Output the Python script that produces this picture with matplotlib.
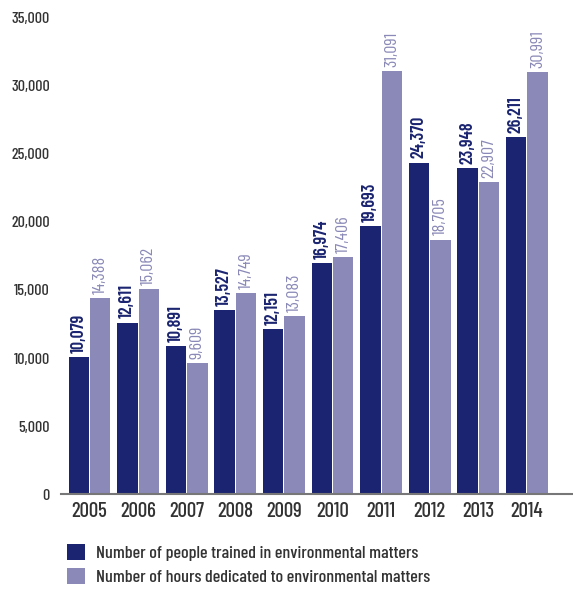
import numpy as np
import matplotlib
matplotlib.use("Agg")
import matplotlib.pyplot as plt
from matplotlib.patches import Patch
from matplotlib import font_manager

years = ["2005", "2006", "2007", "2008", "2009", "2010", "2011", "2012", "2013", "2014"]
people_trained = [10079, 12611, 10891, 13527, 12151, 16974, 19693, 24370, 23948, 26211]
hours_dedicated = [14388, 15062, 9609, 14749, 13083, 17406, 31091, 18705, 22907, 30991]
y_ticks = [0, 5000, 10000, 15000, 20000, 25000, 30000, 35000]

DARK = "#1b2470"
LIGHT = "#8a89b7"
TEXT = "#333333"

# narrow DIN-like face, first one installed wins
names = {f.name for f in font_manager.fontManager.ttflist}
prefs = ["Barlow Condensed", "Roboto Condensed", "Saira Condensed", "PT Sans Narrow", "Oswald"]
FAMILY = [n for n in prefs if n in names][:1] + ["DejaVu Sans"]
plt.rcParams["font.family"] = FAMILY

fig = plt.figure(figsize=(5.73, 5.96), dpi=100)
ax = fig.add_axes([0.1065, 0.171, 0.8935, 0.799])

x = np.arange(len(years))
w = 0.42
off = w / 2 + 0.01
ax.bar(x - off, people_trained, width=w, color=DARK, zorder=2)
ax.bar(x + off, hours_dedicated, width=w, color=LIGHT, zorder=2)

for xi, v in zip(x, people_trained):
    ax.annotate(f"{v:,}", (xi - off, v), xytext=(0, 3), textcoords="offset points",
                rotation=90, ha="center", va="bottom", fontsize=13,
                fontweight=600, color=DARK)
for xi, v in zip(x, hours_dedicated):
    ax.annotate(f"{v:,}", (xi + off, v), xytext=(0, 3), textcoords="offset points",
                rotation=90, ha="center", va="bottom", fontsize=13,
                fontweight=400, color=LIGHT)

ax.set_xlim(-0.586, 9.95)
ax.set_ylim(0, 35000)
ax.set_xticks(x)
ax.set_xticklabels(years, fontsize=15, fontweight=500, color=TEXT)
ax.set_yticks(y_ticks)
ax.set_yticklabels([f"{t:,}" for t in y_ticks], fontsize=11.5, fontweight=500, color=TEXT)
ax.tick_params(axis="both", length=0)
ax.tick_params(axis="y", pad=8)
ax.tick_params(axis="x", pad=6)

for side in ["top", "right", "left"]:
    ax.spines[side].set_visible(False)
ax.spines["bottom"].set_color("#777777")
ax.spines["bottom"].set_linewidth(1.5)

handles = [Patch(facecolor=DARK, label="Number of people trained in environmental matters"),
           Patch(facecolor=LIGHT, label="Number of hours dedicated to environmental matters")]
leg = fig.legend(handles=handles, loc="upper left", frameon=False,
                 prop={"size": 13, "weight": 500},
                 handlelength=1.0, handleheight=1.0, handletextpad=0.6, labelspacing=0.35,
                 labelcolor=TEXT, borderaxespad=0, borderpad=0)
leg.set_bbox_to_anchor((0.117, 0.087), transform=fig.transFigure)

fig.savefig("out.png", dpi=100, facecolor="white")
